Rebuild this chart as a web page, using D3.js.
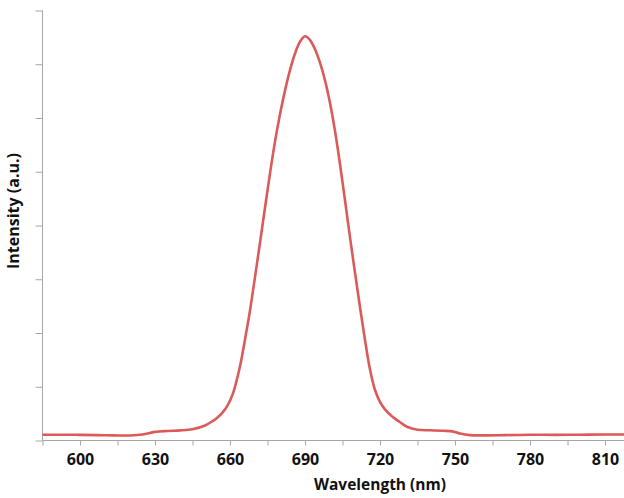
<!DOCTYPE html>
<html>
<head>
<meta charset="utf-8">
<script src="https://cdn.jsdelivr.net/npm/d3@7"></script>
<style>
  html, body { margin: 0; padding: 0; background: #ffffff; }
  svg { display: block; }
</style>
</head>
<body>
<div id="chart"></div>
<script>
// Wavelength (nm)
const wavelength = [585, 595, 600, 610, 620, 625, 630, 635, 640, 645, 650, 653, 655, 657, 659, 661, 662, 664, 666, 668, 670, 672, 674, 676, 678, 680, 682, 684, 686, 688, 690, 692, 694, 696, 698, 700, 702, 704, 706, 708, 710, 712, 714, 716, 718, 720, 722, 725, 728, 731, 735, 740, 745, 749, 752, 756, 760, 770, 780, 790, 800, 810, 818, 825];
// Intensity (a.u.)
const intensity = [0.106, 0.108, 0.105, 0.098, 0.093, 0.11, 0.16, 0.178, 0.188, 0.21, 0.28, 0.36, 0.43, 0.52, 0.65, 0.85, 1.0, 1.38, 1.88, 2.42, 3.04, 3.68, 4.33, 4.97, 5.56, 6.07, 6.51, 6.89, 7.2, 7.42, 7.52, 7.45, 7.28, 7.03, 6.7, 6.28, 5.76, 5.14, 4.47, 3.78, 3.12, 2.48, 1.87, 1.32, 0.94, 0.72, 0.58, 0.44, 0.34, 0.25, 0.2, 0.19, 0.18, 0.17, 0.13, 0.1, 0.095, 0.1, 0.108, 0.105, 0.108, 0.112, 0.112, 0.112];
const xTicks = [585, 600, 615, 630, 645, 660, 675, 690, 705, 720, 735, 750, 765, 780, 795, 810, 825];
const xTickLabels = [600, 630, 660, 690, 720, 750, 780, 810];
const yTicks = [0, 1, 2, 3, 4, 5, 6, 7, 8];
const xTitle = "Wavelength (nm)";
const yTitle = "Intensity (a.u.)";

const W = 624, H = 498;
const svg = d3.select("#chart").append("svg").attr("width", W).attr("height", H);

const x = d3.scaleLinear().domain([585, 825]).range([42.5, 642.5]);
const y = d3.scaleLinear().domain([0, 8]).range([440.5, 10.5]);

const axisColor = "#a6a6a6";
const font = "'Open Sans', sans-serif";

// X axis
const gx = svg.append("g").attr("transform", `translate(0,${y(0)})`)
  .call(d3.axisBottom(x).tickValues(xTicks).tickSize(5).tickPadding(8)
    .tickFormat(d => xTickLabels.includes(d) ? String(d) : ""));
gx.select(".domain").attr("stroke", axisColor).attr("d", `M${x(585)},0H${W}`);
gx.selectAll(".tick line").attr("stroke", axisColor);
gx.selectAll(".tick text").attr("fill", "#111").style("font-family", font)
  .style("font-weight", "700").style("font-size", "16px");

// Y axis
const gy = svg.append("g").attr("transform", `translate(${x(585)},0)`)
  .call(d3.axisLeft(y).tickValues(yTicks).tickSize(7).tickFormat(""));
gy.select(".domain").attr("stroke", axisColor).attr("d", `M0,${y(0)}V${y(8)}`);
gy.selectAll(".tick line").attr("stroke", axisColor);

// Line
const line = d3.line().x((d, i) => x(wavelength[i])).y(d => y(d)).curve(d3.curveCatmullRom.alpha(0.5));
svg.append("path").datum(intensity).attr("d", line)
  .attr("fill", "none").attr("stroke", "#db5a5a").attr("stroke-width", 2.6)
  .attr("stroke-linejoin", "round");

// Titles
svg.append("text").attr("x", 380).attr("y", 490).attr("text-anchor", "middle")
  .attr("fill", "#111").style("font-family", font).style("font-weight", "700")
  .style("font-size", "15.5px").text(xTitle);
svg.append("text").attr("transform", `translate(19,211) rotate(-90)`).attr("text-anchor", "middle")
  .attr("fill", "#111").style("font-family", font).style("font-weight", "700")
  .style("font-size", "16px").text(yTitle);
</script>
</body>
</html>
